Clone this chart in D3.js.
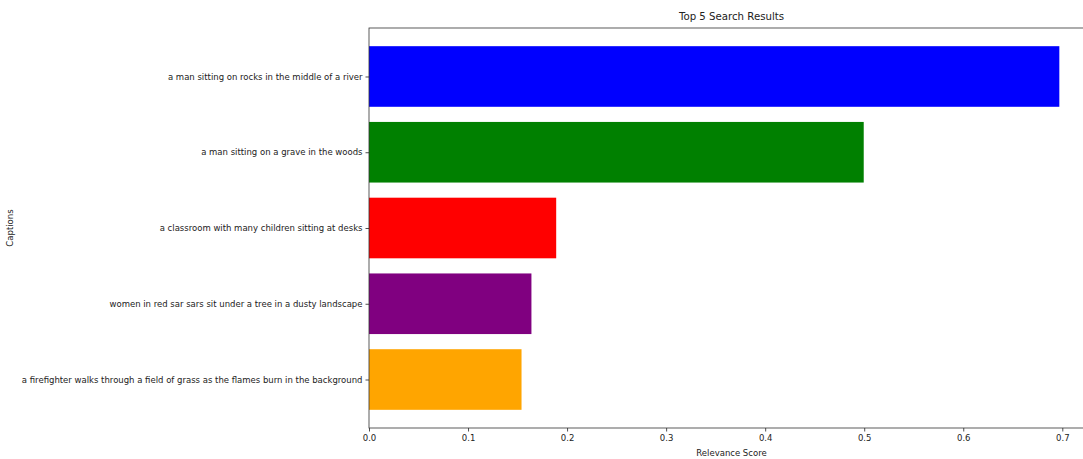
<!DOCTYPE html>
<html>
<head>
<meta charset="utf-8">
<script src="https://cdn.jsdelivr.net/npm/d3@7"></script>
<style>
body { margin: 0; background: #fff; }
text { font-family: "DejaVu Sans", sans-serif; fill: #222; }
</style>
</head>
<body>
<svg id="chart" width="1083" height="459"></svg>
<script>
const captions = [
  "a man sitting on rocks in the middle of a river",
  "a man sitting on a grave in the woods",
  "a classroom with many children sitting at desks",
  "women in red sar sars sit under a tree in a dusty landscape",
  "a firefighter walks through a field of grass as the flames burn in the background"
];
const scores = [0.697, 0.4995, 0.189, 0.164, 0.154];
const barColors = ["blue", "green", "red", "purple", "orange"];
const xTicks = [0.0, 0.1, 0.2, 0.3, 0.4, 0.5, 0.6, 0.7];
const titleText = "Top 5 Search Results";
const xLabel = "Relevance Score";
const yLabel = "Captions";

const svg = d3.select("#chart");
const mLeft = 369, mRight = 1094, mTop = 28, mBottom = 428;
const fs = 8.5;

const x = d3.scaleLinear().domain([0, 0.732]).range([mLeft, mRight]);
// matplotlib-like categorical axis: index positions, inverted
const y = d3.scaleLinear().domain([-0.64, 4.64]).range([mTop, mBottom]);
const barH = 0.8;

const data = captions.map((c, i) => ({ caption: c, score: scores[i], color: barColors[i], i }));

svg.append("g").selectAll("rect").data(data).join("rect")
  .attr("x", x(0))
  .attr("y", d => y(d.i - barH / 2))
  .attr("width", d => x(d.score) - x(0))
  .attr("height", d => y(d.i + barH / 2) - y(d.i - barH / 2))
  .attr("fill", d => d.color);

// X axis
const xAxis = d3.axisBottom(x).tickValues(xTicks).tickFormat(d3.format(".1f")).tickSize(3.5).tickPadding(3);
const gx = svg.append("g").attr("transform", `translate(0,${mBottom})`).call(xAxis);
gx.select(".domain").remove();
gx.selectAll("text").attr("font-size", fs).style("fill", "#222");
gx.selectAll("line").attr("stroke", "#222").attr("stroke-width", 0.8);

// Y axis
const yAxis = d3.axisLeft(y).tickValues(d3.range(captions.length)).tickFormat(i => captions[i]).tickSize(3.5).tickPadding(3);
const gy = svg.append("g").attr("transform", `translate(${mLeft},0)`).call(yAxis);
gy.select(".domain").remove();
gy.selectAll("text").attr("font-size", fs).style("fill", "#222");
gy.selectAll("line").attr("stroke", "#222").attr("stroke-width", 0.8);

// spines
svg.append("rect").attr("x", mLeft).attr("y", mTop).attr("width", mRight - mLeft).attr("height", mBottom - mTop)
  .attr("fill", "none").attr("stroke", "#333").attr("stroke-width", 0.8);

// title
svg.append("text").attr("x", (mLeft + mRight) / 2).attr("y", 20).attr("text-anchor", "middle")
  .attr("font-size", 10.2).text(titleText);

svg.append("text").attr("x", (mLeft + mRight) / 2).attr("y", 456).attr("text-anchor", "middle")
  .attr("font-size", fs).text(xLabel);

svg.append("text").attr("transform", `translate(13,${(mTop + mBottom) / 2}) rotate(-90)`)
  .attr("text-anchor", "middle").attr("font-size", fs).text(yLabel);
</script>
</body>
</html>
